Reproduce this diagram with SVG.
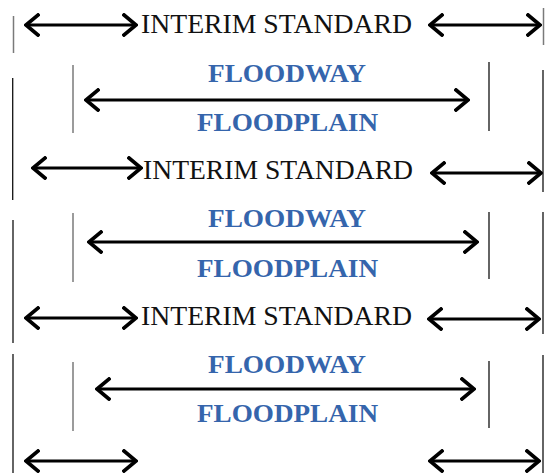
<svg xmlns="http://www.w3.org/2000/svg" width="552" height="473" viewBox="0 0 552 473">
<style>
.bg{fill:#ffffff}
.arr{stroke:#000;stroke-width:3.2;fill:none;marker-start:url(#ah);marker-end:url(#ah)}
.gl{stroke:#7a7a7a;stroke-width:1.5;fill:none}
.bl{stroke:#111;stroke-width:1.3;fill:none}
.std{font-family:"Liberation Serif","Times New Roman",serif;font-size:27px;fill:#111}
.fl{font-family:"Liberation Serif","Times New Roman",serif;font-size:26px;font-weight:bold;fill:#3565ac;text-anchor:middle}
</style>
<defs>
<marker id="ah" viewBox="0 0 16 24" refX="14" refY="12" markerWidth="16" markerHeight="24" markerUnits="userSpaceOnUse" orient="auto-start-reverse">
<path d="M2,2 L14,12 L2,22" stroke="#000" stroke-width="3.6" fill="none" stroke-linecap="square"/>
</marker>
</defs>
<rect class="bg" x="0" y="0" width="552" height="473"/>
<g id="connectors">
<line class="arr" x1="26" y1="25" x2="136" y2="25"/>
<line class="arr" x1="430" y1="25" x2="540" y2="25"/>
<line class="arr" x1="86" y1="100" x2="468" y2="100"/>
<line class="arr" x1="33" y1="168" x2="141" y2="168"/>
<line class="arr" x1="432" y1="173" x2="541" y2="173"/>
<line class="arr" x1="89" y1="242" x2="477" y2="242"/>
<line class="arr" x1="26" y1="318" x2="136" y2="318"/>
<line class="arr" x1="429" y1="319" x2="539" y2="319"/>
<line class="arr" x1="97" y1="389" x2="474" y2="389"/>
<line class="arr" x1="26" y1="461" x2="136" y2="461"/>
<line class="arr" x1="430" y1="461" x2="539" y2="461"/>
</g>
<g id="boundaries">
<line class="gl" x1="13.5" y1="16" x2="13.5" y2="53"/>
<line class="gl" x1="543.5" y1="8" x2="543.5" y2="45"/>
<line class="gl" x1="73" y1="65" x2="73" y2="133"/>
<line class="bl" x1="489" y1="62" x2="489" y2="131"/>
<line class="bl" x1="12.7" y1="78" x2="12.7" y2="200"/>
<line class="bl" x1="543" y1="70" x2="543" y2="192"/>
<line class="gl" x1="73" y1="213" x2="73" y2="282"/>
<line class="bl" x1="489" y1="212" x2="489" y2="279"/>
<line class="bl" x1="13" y1="220" x2="13" y2="343"/>
<line class="bl" x1="543" y1="212" x2="543" y2="334"/>
<line class="gl" x1="73" y1="362" x2="73" y2="431"/>
<line class="bl" x1="489" y1="361" x2="489" y2="428"/>
<line class="bl" x1="13" y1="354" x2="13" y2="473"/>
<line class="bl" x1="543" y1="355" x2="543" y2="473"/>
</g>
<g id="interim1"><text class="std" x="141" y="33" textLength="271" lengthAdjust="spacingAndGlyphs">INTERIM STANDARD</text></g>
<g id="floodway1"><text class="fl" x="287" y="82" textLength="158" lengthAdjust="spacingAndGlyphs">FLOODWAY</text></g>
<g id="floodplain1"><text class="fl" x="287.5" y="131" textLength="181" lengthAdjust="spacingAndGlyphs">FLOODPLAIN</text></g>
<g id="interim2"><text class="std" x="143" y="179" textLength="270" lengthAdjust="spacingAndGlyphs">INTERIM STANDARD</text></g>
<g id="floodway2"><text class="fl" x="287" y="227" textLength="158" lengthAdjust="spacingAndGlyphs">FLOODWAY</text></g>
<g id="floodplain2"><text class="fl" x="287.5" y="277" textLength="181" lengthAdjust="spacingAndGlyphs">FLOODPLAIN</text></g>
<g id="interim3"><text class="std" x="141" y="325" textLength="271" lengthAdjust="spacingAndGlyphs">INTERIM STANDARD</text></g>
<g id="floodway3"><text class="fl" x="287" y="373" textLength="158" lengthAdjust="spacingAndGlyphs">FLOODWAY</text></g>
<g id="floodplain3"><text class="fl" x="287.5" y="422" textLength="181" lengthAdjust="spacingAndGlyphs">FLOODPLAIN</text></g>
</svg>
